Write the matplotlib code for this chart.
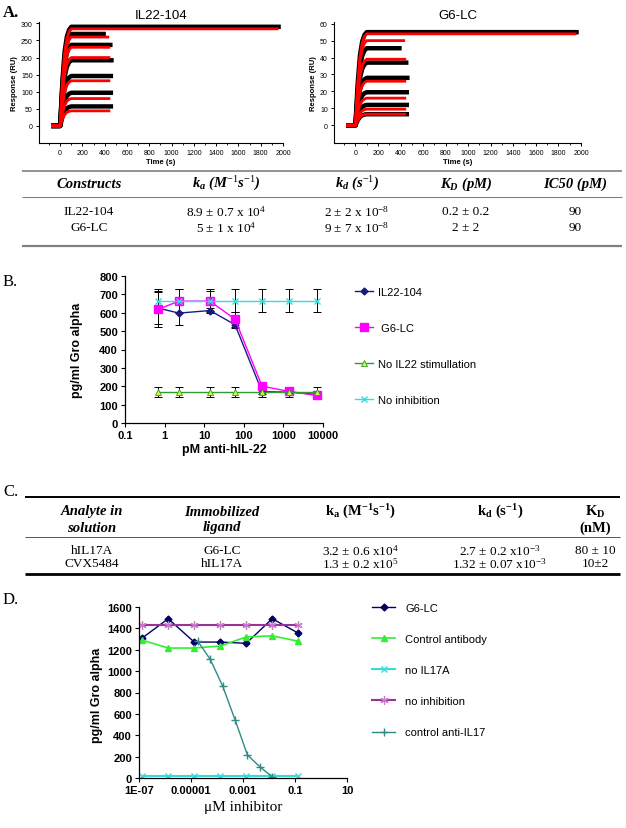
import numpy as np
import matplotlib.pyplot as plt
from matplotlib.ticker import MultipleLocator, FixedLocator, FixedFormatter, NullLocator

plt.rcParams['font.family'] = ['Liberation Sans', 'DejaVu Sans']
plt.rcParams['mathtext.fontset'] = 'custom'
plt.rcParams['mathtext.rm'] = 'Liberation Serif'
plt.rcParams['mathtext.it'] = 'Liberation Serif:italic:bold'
plt.rcParams['mathtext.bf'] = 'Liberation Serif:bold'

W, H = 626, 829
SERIF = ['Liberation Serif', 'DejaVu Serif']

# ---------------- data: panel A (sensorgrams) ----------------
assoc_t = [-80, 0, 20, 40, 60, 80, 100]          # s
assoc_frac = [0, 0, 0.45, 0.75, 0.9, 0.97, 1.0]   # fraction of plateau reached
il22_black = [290, 269, 237, 192, 146, 97, 57]
il22_red = [284, 260, 230, 200, 132, 80, 44]
g6_black = [55, 45.5, 37, 28, 19.5, 12, 6.5]
g6_red = [54, 50, 39, 26, 16, 9.5, 6.5]
black_end = [1980, 410, 470, 480, 475, 475, 475]
red_end = [1960, 440, 450, 450, 450, 450, 450]

# ---------------- data: table A ----------------
tA_header = ['Constructs', r'$k_a$ (M$^{\mathit{-1}}$s$^{\mathit{-1}}$)',
             r'$k_d$ (s$^{\mathit{-1}}$)', r'$K_D$ (pM)', 'IC50 (pM)']
tA_rows = [['IL22-104', '8.9 ± 0.7 x 10$^{4}$', '2 ± 2 x 10$^{-8}$', '0.2 ± 0.2', '90'],
           ['G6-LC', '5 ± 1 x 10$^{4}$', '9 ± 7 x 10$^{-8}$', '2 ± 2', '90']]

# ---------------- data: panel B ----------------
b_x = [0.7, 2.3, 14, 60, 290, 1400, 7100]
b_il22 = [625, 598, 612, 535, 170, 168, 155]
b_il22_err = [88, 65, 15, 20, 10, 10, 10]
b_g6 = [620, 663, 663, 565, 200, 172, 150]
b_g6_err = [100, 65, 55, 40, 10, 10, 10]
b_nostim = [168, 168, 168, 168, 168, 168, 168]
b_nostim_err = [27, 27, 27, 27, 27, 27, 27]
b_noinh = [665, 665, 665, 665, 665, 665, 665]
b_noinh_err = [62, 62, 62, 62, 62, 62, 62]
b_xticks = [0.1, 1, 10, 100, 1000, 10000]
b_xticklabels = ['0.1', '1', '10', '100', '1000', '10000']

# ---------------- data: table C ----------------
tC_header1 = ['Analyte in', 'Immobilized', r'$\mathbf{k_a\ (M^{-1}s^{-1})}$',
              r'$\mathbf{k_d\ (s^{-1})}$', r'$\mathbf{K_D}$']
tC_header2 = ['solution', 'ligand', '', '', '(nM)']
tC_rows = [['hIL17A', 'G6-LC', '3.2 ± 0.6 x10$^{4}$', '2.7 ± 0.2 x10$^{-3}$', '80 ± 10'],
           ['CVX5484', 'hIL17A', '1.3 ± 0.2 x10$^{5}$', '1.32 ± 0.07 x10$^{-3}$', '10±2']]

# ---------------- data: panel D ----------------
d_x = [1.33e-7, 1.33e-6, 1.33e-5, 1.33e-4, 1.33e-3, 1.33e-2, 1.33e-1]
d_g6 = [1310, 1490, 1272, 1272, 1260, 1490, 1356]
d_ctrl_ab = [1290, 1216, 1216, 1235, 1320, 1330, 1280]
d_no_il17a = [15, 15, 15, 15, 15, 15, 15]
d_no_inh = [1430, 1430, 1430, 1430, 1430, 1430, 1430]
d_anti_x = [1.83e-5, 5.5e-5, 1.65e-4, 4.94e-4, 1.48e-3, 4.44e-3, 1.33e-2]
d_anti = [1280, 1110, 860, 545, 215, 105, 10]
d_xticks = [1e-7, 1e-5, 1e-3, 1e-1, 10]
d_xticklabels = ['1E-07', '0.00001', '0.001', '0.1', '10']


def box(l, t, r, b):
    return [l / W, 1 - b / H, (r - l) / W, (b - t) / H]


def ftext(x, y, s, **kw):
    fig.text(x / W, 1 - y / H, s, **kw)


fig = plt.figure(figsize=(6.26, 8.29), dpi=100)

# background axes in pixel coords for tables and panel letters
bg = fig.add_axes([0, 0, 1, 1])
bg.set_xlim(0, W)
bg.set_ylim(H, 0)
bg.axis('off')


# ---------------- panel A ----------------
def sensorgram(ax, black, red, ylim, ystep, title):
    for lvl, end in zip(black, black_end):
        t = np.append(assoc_t, end)
        y = np.append(np.array(assoc_frac) * lvl, lvl)
        ax.plot(t, y, color='black', lw=3.2, solid_capstyle='butt')
    for lvl, end in zip(red, red_end):
        t = np.append(assoc_t, end)
        y = np.append(np.array(assoc_frac) * lvl, lvl)
        ax.plot(t, y, color='#ff0000', lw=2.0, solid_capstyle='butt')
    ax.set_xlim(-190, 2000)
    ax.set_ylim(*ylim)
    ax.xaxis.set_major_locator(MultipleLocator(200))
    ax.xaxis.set_minor_locator(MultipleLocator(100))
    ax.yaxis.set_major_locator(FixedLocator(np.arange(0, ylim[1] + 1, ystep)))
    for s in ['top', 'right']:
        ax.spines[s].set_visible(False)
    for s in ['left', 'bottom']:
        ax.spines[s].set_linewidth(0.8)
    ax.tick_params(labelsize=5, length=2.5, width=0.7, pad=2)
    ax.tick_params(which='minor', length=1.5, width=0.6)
    ax.set_xlabel('Time (s)', fontsize=5.5, fontweight='bold', labelpad=1)
    ax.set_ylabel('Response (RU)', fontsize=5.5, fontweight='bold', labelpad=2)
    ax.set_title(title, fontsize=9.5, pad=3)


axA1 = fig.add_axes(box(39, 23, 283, 144))
sensorgram(axA1, il22_black, il22_red, (-50, 304), 50, 'IL22-104')
axA2 = fig.add_axes(box(334, 23, 581, 144))
sensorgram(axA2, g6_black, g6_red, (-10.5, 61), 10, 'G6-LC')

ftext(3, 13, 'A.', fontsize=12, fontweight='bold', family=SERIF, va='center')

# ---------------- table A ----------------
colA = [89, 226, 357, 466, 575]
bg.hlines(172, 22, 622, color='#808080', lw=1.2)
bg.hlines(198, 22, 622, color='#808080', lw=0.8)
bg.hlines(247, 22, 622, color='#808080', lw=1.6)
for x, s in zip(colA, tA_header):
    bg.text(x, 184, s, ha='center', va='center', fontsize=10.5, family=SERIF,
            fontstyle='italic', fontweight='bold')
for row, y in zip(tA_rows, [212, 228]):
    for x, s in zip(colA, row):
        bg.text(x, y, s, ha='center', va='center', fontsize=9.5, family=SERIF)

# ---------------- panel B ----------------
axB = fig.add_axes(box(125, 277, 323, 424))
ekw = dict(fmt='none', ecolor='black', elinewidth=0.7, capsize=3, capthick=0.7)
axB.errorbar(b_x, b_il22, yerr=b_il22_err, **ekw)
axB.errorbar(b_x, b_g6, yerr=b_g6_err, **ekw)
axB.errorbar(b_x, b_nostim, yerr=b_nostim_err, **ekw)
axB.errorbar(b_x, b_noinh, yerr=b_noinh_err, **ekw)
lB = []
lB += axB.plot(b_x, b_il22, color='#1a1a80', lw=1.0, marker='D', ms=3.5,
               label='IL22-104')
lB += axB.plot(b_x, b_g6, color='#ff00ff', lw=1.0, marker='s', ms=6,
               label=' G6-LC')
lB += axB.plot(b_x, b_nostim, color='#339933', lw=1.0, marker='^', ms=4,
               mfc='#ccff33', mec='#339933', mew=0.6, label='No IL22 stimullation')
lB += axB.plot(b_x, b_noinh, color='#33dddd', lw=1.0, marker='x', ms=5,
               mew=1.0, label='No inhibition')
axB.set_xscale('log')
axB.set_xlim(0.1, 10000)
axB.set_ylim(0, 800)
axB.xaxis.set_major_locator(FixedLocator(b_xticks))
axB.xaxis.set_major_formatter(FixedFormatter(b_xticklabels))
axB.xaxis.set_minor_locator(NullLocator())
axB.yaxis.set_major_locator(MultipleLocator(100))
for s in ['top', 'right']:
    axB.spines[s].set_visible(False)
for s in ['left', 'bottom']:
    axB.spines[s].set_linewidth(0.9)
axB.tick_params(labelsize=8, length=3, width=0.8, pad=2)
for lab in axB.get_xticklabels() + axB.get_yticklabels():
    lab.set_fontweight('bold')
axB.set_xlabel('pM anti-hIL-22', fontsize=9, fontweight='bold', labelpad=2)
ftext(77, 350, 'pg/ml Gro alpha', fontsize=9, fontweight='bold', rotation=90,
      ha='center', va='center')
axB.legend(handles=lB, loc='upper left', bbox_to_anchor=(355 / W, 1 - 288 / H),
           bbox_transform=fig.transFigure, frameon=False, borderpad=0,
           borderaxespad=0, handlelength=1.6, handletextpad=0.45,
           labelspacing=2.35, fontsize=8)
ftext(3, 282, 'B.', fontsize=12, family=SERIF, va='center')

# ---------------- table C ----------------
colC = [92, 222, 360, 500, 595]
ftext(3, 492, 'C.', fontsize=12, family=SERIF, va='center')
bg.hlines(498, 25, 620, color='black', lw=1.4)
bg.hlines(538, 25, 620, color='#555555', lw=0.7)
bg.hlines(575, 25, 620, color='black', lw=2.0)
for i, (x, s) in enumerate(zip(colC, tC_header1)):
    kw = dict(fontstyle='italic') if i < 2 else {}
    bg.text(x, 512, s, ha='center', va='center', fontsize=10.5, family=SERIF,
            fontweight='bold', **kw)
for i, (x, s) in enumerate(zip(colC, tC_header2)):
    kw = dict(fontstyle='italic') if i < 2 else {}
    bg.text(x, 528, s, ha='center', va='center', fontsize=10.5, family=SERIF,
            fontweight='bold', **kw)
for row, y in zip(tC_rows, [551, 564]):
    for x, s in zip(colC, row):
        bg.text(x, y, s, ha='center', va='center', fontsize=9.5, family=SERIF)

# ---------------- panel D ----------------
axD = fig.add_axes(box(139, 608, 347, 779))
lD = []
lD += axD.plot(d_x, d_g6, color='#000066', lw=1.0, marker='D', ms=3.5,
               label='G6-LC')
lD += axD.plot(d_x, d_ctrl_ab, color='#33ee33', lw=1.2, marker='^', ms=5,
               label='Control antibody')
lD += axD.plot(d_x, d_no_il17a, color='#33dddd', lw=1.5, marker='x', ms=5,
               mew=1.0, label='no IL17A')
lD += axD.plot(d_x, d_no_inh, color='#993399', lw=1.5, marker=(6, 2, 0), ms=6,
               mec='#cc77cc', mew=0.9, label='no inhibition')
lD += axD.plot(d_anti_x, d_anti, color='#2f8c82', lw=1.0, marker='+', ms=6,
               mew=1.0, label='control anti-IL17')
axD.set_xscale('log')
axD.set_xlim(1e-7, 10)
axD.set_ylim(0, 1600)
axD.xaxis.set_major_locator(FixedLocator(d_xticks))
axD.xaxis.set_major_formatter(FixedFormatter(d_xticklabels))
axD.xaxis.set_minor_locator(NullLocator())
axD.yaxis.set_major_locator(MultipleLocator(200))
for s in ['top', 'right']:
    axD.spines[s].set_visible(False)
for s in ['left', 'bottom']:
    axD.spines[s].set_linewidth(0.9)
axD.tick_params(labelsize=8, length=3, width=0.8, pad=2)
for lab in axD.get_xticklabels() + axD.get_yticklabels():
    lab.set_fontweight('bold')
axD.set_xlabel('μM inhibitor', fontsize=11, family=SERIF, labelpad=4)
ftext(97, 695, 'pg/ml Gro alpha', fontsize=9, fontweight='bold', rotation=90,
      ha='center', va='center')
axD.legend(handles=lD, loc='upper left', bbox_to_anchor=(372 / W, 1 - 604 / H),
           bbox_transform=fig.transFigure, frameon=False, borderpad=0,
           borderaxespad=0, handlelength=2.1, handletextpad=0.9,
           labelspacing=1.9, fontsize=8)
ftext(3, 600, 'D.', fontsize=12, family=SERIF, va='center')

fig.savefig('out.png', dpi=100)
